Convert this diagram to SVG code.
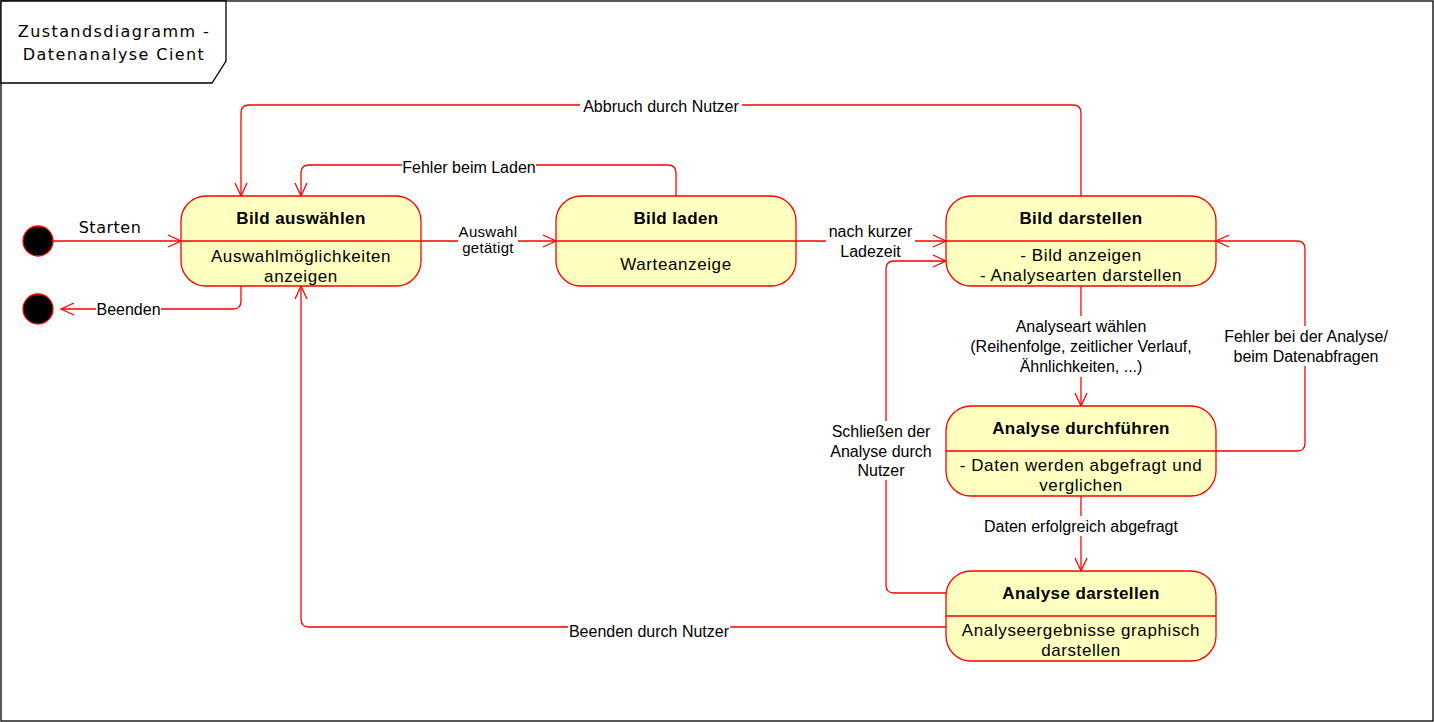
<svg xmlns="http://www.w3.org/2000/svg" width="1434" height="722" viewBox="0 0 1434 722">
<style>
.frame{fill:#fff;stroke:#000;stroke-width:1.3}
.st{fill:#FFFFC0;stroke:#FF0000;stroke-width:1.3}
.div{stroke:#FF0000;stroke-width:1.3}
.dot{fill:#000;stroke:#FF0000;stroke-width:1.3}
.ln{fill:none;stroke:#FF0000;stroke-width:1.3}
.arr{marker-end:url(#ah)}
.ttl{font-family:"Liberation Sans",Arial,sans-serif;font-size:17px;font-weight:bold;text-anchor:middle;letter-spacing:0.4px;fill:#000}
.bd{font-family:"Liberation Sans",Arial,sans-serif;font-size:17px;text-anchor:middle;letter-spacing:0.6px;fill:#000}
.lb{font-family:"Liberation Sans",Arial,sans-serif;font-size:16px;text-anchor:middle;fill:#000}
.lbs{font-family:"Liberation Sans",Arial,sans-serif;font-size:15px;text-anchor:middle;fill:#000}
.dv{font-family:"DejaVu Sans",Verdana,sans-serif;font-size:16px;text-anchor:middle;fill:#000}
.bg{fill:#fff}
</style>
<defs>
<marker id="ah" markerUnits="userSpaceOnUse" markerWidth="16" markerHeight="16" refX="13" refY="6" orient="auto" overflow="visible">
<path d="M0,0 L13,6 L0,12" fill="none" stroke="#FF0000" stroke-width="1.3"/>
</marker>
<clipPath id="c1"><rect x="181" y="196" width="240" height="90" rx="25"/></clipPath>
<clipPath id="c3"><rect x="946" y="196" width="270" height="90" rx="25"/></clipPath>
<clipPath id="c4"><rect x="946" y="406" width="270" height="90" rx="25"/></clipPath>
<clipPath id="c5"><rect x="946" y="571" width="270" height="90" rx="25"/></clipPath>
</defs>

<g id="frame">
<rect class="frame" x="1" y="1" width="1432" height="720"/>
<polygon class="frame" points="1,1 226,1 226,61 212,83 1,83"/>
<text class="dv" x="114" y="37" style="letter-spacing:1.4px">Zustandsdiagramm -</text>
<text class="dv" x="114" y="60" style="letter-spacing:1.4px">Datenanalyse Cient</text>
</g>

<g id="connectors">
<path class="ln arr" d="M53,241 L181,241"/>
<text class="dv" x="110" y="233" style="letter-spacing:0.5px">Starten</text>

<path class="ln arr" d="M241,286 L241,301 Q241,309 233,309 L61,309"/>
<rect class="bg" x="96" y="300" width="65" height="19"/>
<text class="lb" x="128.5" y="315">Beenden</text>

<path class="ln arr" d="M421,241 L556,241"/>
<rect class="bg" x="458" y="224" width="60" height="34"/>
<text class="lbs" x="488" y="237" style="letter-spacing:0.3px">Auswahl</text>
<text class="lbs" x="488" y="253" style="letter-spacing:0.3px">getätigt</text>

<path class="ln arr" d="M676,196 L676,173 Q676,165 668,165 L309,165 Q301,165 301,173 L301,196"/>
<rect class="bg" x="402" y="157" width="134" height="19"/>
<text class="lb" x="469" y="173">Fehler beim Laden</text>

<path class="ln arr" d="M1081,196 L1081,113 Q1081,105 1073,105 L249,105 Q241,105 241,113 L241,196"/>
<rect class="bg" x="580" y="97" width="162" height="19"/>
<text class="lb" x="661" y="112">Abbruch durch Nutzer</text>

<path class="ln arr" d="M796,241 L946,241"/>
<rect class="bg" x="826" y="224" width="89" height="37"/>
<text class="lb" x="870.5" y="237">nach kurzer</text>
<text class="lb" x="870.5" y="257">Ladezeit</text>

<path class="ln arr" d="M1081,286 L1081,406"/>
<rect class="bg" x="966" y="316" width="230" height="61"/>
<text class="lb" x="1081" y="332">Analyseart wählen</text>
<text class="lb" x="1081" y="352">(Reihenfolge, zeitlicher Verlauf,</text>
<text class="lb" x="1081" y="372">Ähnlichkeiten, ...)</text>

<path class="ln arr" d="M1216,451 L1297,451 Q1305,451 1305,443 L1305,249 Q1305,241 1297,241 L1216,241"/>
<rect class="bg" x="1222" y="326" width="168" height="40"/>
<text class="lb" x="1306" y="342">Fehler bei der Analyse/</text>
<text class="lb" x="1306" y="362">beim Datenabfragen</text>

<path class="ln arr" d="M1081,496 L1081,571"/>
<rect class="bg" x="983" y="516" width="196" height="20"/>
<text class="lb" x="1081" y="532">Daten erfolgreich abgefragt</text>

<path class="ln arr" d="M946,593 L894,593 Q886,593 886,585 L886,269 Q886,261 894,261 L946,261"/>
<rect class="bg" x="829" y="421" width="104" height="59"/>
<text class="lb" x="881" y="437">Schließen der</text>
<text class="lb" x="881" y="457">Analyse durch</text>
<text class="lb" x="881" y="476">Nutzer</text>

<path class="ln arr" d="M946,627 L309,627 Q301,627 301,619 L301,286"/>
<rect class="bg" x="568" y="619" width="162" height="19"/>
<text class="lb" x="649" y="637">Beenden durch Nutzer</text>
</g>

<g id="start">
<circle class="dot" cx="38" cy="241" r="15"/>
</g>
<g id="end">
<circle class="dot" cx="38" cy="309" r="15"/>
</g>

<g id="bild-auswaehlen">
<rect class="st" x="181" y="196" width="240" height="90" rx="25"/>
<line class="div" x1="181" y1="241" x2="421" y2="241"/>
<text class="ttl" x="301" y="224">Bild auswählen</text>
<g clip-path="url(#c1)">
<text class="bd" x="301" y="262">Auswahlmöglichkeiten</text>
<text class="bd" x="301" y="282">anzeigen</text>
</g>
</g>

<g id="bild-laden">
<rect class="st" x="556" y="196" width="240" height="90" rx="25"/>
<line class="div" x1="556" y1="241" x2="796" y2="241"/>
<text class="ttl" x="676" y="224">Bild laden</text>
<text class="bd" x="676" y="270">Warteanzeige</text>
</g>

<g id="bild-darstellen">
<rect class="st" x="946" y="196" width="270" height="90" rx="25"/>
<line class="div" x1="946" y1="241" x2="1216" y2="241"/>
<text class="ttl" x="1081" y="224">Bild darstellen</text>
<g clip-path="url(#c3)">
<text class="bd" x="1081" y="261">- Bild anzeigen</text>
<text class="bd" x="1081" y="281">- Analysearten darstellen</text>
</g>
</g>

<g id="analyse-durchfuehren">
<rect class="st" x="946" y="406" width="270" height="90" rx="25"/>
<line class="div" x1="946" y1="451" x2="1216" y2="451"/>
<text class="ttl" x="1081" y="434">Analyse durchführen</text>
<g clip-path="url(#c4)">
<text class="bd" x="1081" y="471">- Daten werden abgefragt und</text>
<text class="bd" x="1081" y="491">verglichen</text>
</g>
</g>

<g id="analyse-darstellen">
<rect class="st" x="946" y="571" width="270" height="90" rx="25"/>
<line class="div" x1="946" y1="616" x2="1216" y2="616"/>
<text class="ttl" x="1081" y="599">Analyse darstellen</text>
<g clip-path="url(#c5)">
<text class="bd" x="1081" y="636">Analyseergebnisse graphisch</text>
<text class="bd" x="1081" y="656">darstellen</text>
</g>
</g>
</svg>
